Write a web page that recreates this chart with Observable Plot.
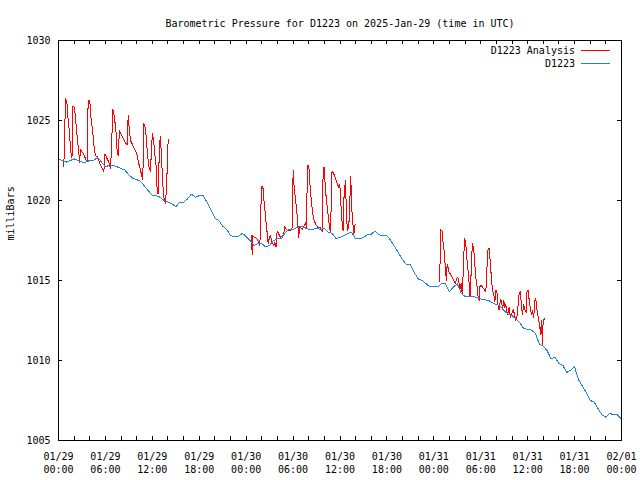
<!DOCTYPE html>
<html><head><meta charset="utf-8">
<script src="https://cdn.jsdelivr.net/npm/d3@7"></script>
<script src="https://cdn.jsdelivr.net/npm/@observablehq/plot@0.6"></script>
<style>body{margin:0;background:#fff} #chart{width:640px;height:480px}</style>
</head><body><div id="chart"></div>
<script>
const titleText = "Barometric Pressure for D1223 on 2025-Jan-29 (time in UTC)";
const yLabelText = "milliBars";
const seriesNames = ["D1223 Analysis", "D1223"];
const seriesColors = ["#ff0000", "#1e82e6"];
const startUTC = Date.UTC(2025, 0, 29);
const endUTC = Date.UTC(2025, 1, 1);
const yTickValues = [1005, 1010, 1015, 1020, 1025, 1030];
const xLabelEveryHours = 6;
const xTickEveryHours = 2;

// D1223 observations, one value every half hour from 01/29 00:00 to 02/01 00:00
const stationHourStep = 0.5;
const stationValues = [
  1022.6, 1022.5, 1022.4, 1022.5, 1022.6, 1022.5, 1022.4, 1022.4, 1022.5,
  1022.5, 1022.7, 1022.4, 1022.1, 1022.2, 1022.2, 1022.1, 1022.0, 1021.9,
  1021.6, 1021.4, 1021.3, 1021.2, 1020.9, 1020.6, 1020.3, 1020.3, 1020.2,
  1020.0, 1019.9, 1019.8, 1019.6, 1019.9, 1019.9, 1020.1, 1020.4, 1020.2,
  1020.3, 1020.3, 1019.9, 1019.4, 1018.9, 1018.75, 1018.4, 1018.2, 1017.8,
  1017.75, 1017.75, 1017.95, 1017.75, 1017.5, 1017.2, 1017.3, 1017.3, 1017.1,
  1017.2, 1017.5, 1017.6, 1017.6, 1018.0, 1018.2, 1018.2, 1018.3, 1018.4,
  1018.3, 1018.2, 1018.2, 1018.25, 1018.2, 1018.25, 1018.0, 1017.95, 1017.6,
  1017.7, 1017.8, 1017.95, 1018.0, 1017.6, 1017.6, 1017.7, 1017.85, 1017.9,
  1018.1, 1017.85, 1017.8, 1017.8, 1017.5, 1017.1, 1016.7, 1016.3, 1016.0,
  1016.0, 1015.5, 1015.1, 1015.0, 1014.8, 1014.6, 1014.6, 1014.6, 1014.8,
  1014.8, 1014.3, 1014.6, 1014.8, 1014.2, 1014.0, 1014.0, 1014.0, 1013.95,
  1013.85, 1013.8, 1013.75, 1013.6, 1013.5, 1013.4, 1013.1, 1012.9, 1012.8,
  1012.6, 1012.35, 1012.0, 1011.95, 1011.9, 1011.7, 1011.0, 1010.9, 1010.6,
  1010.1, 1010.2, 1009.8, 1009.7, 1009.25, 1009.4, 1009.6, 1008.8, 1008.4,
  1008.0, 1007.5, 1007.4, 1007.0, 1006.6, 1006.45, 1006.7, 1006.6, 1006.6,
  1006.35
];

// D1223 Analysis: [hours after 01/29 00:00, mb]
const analysisRun1 = [
  [0.68,1022.1],[0.90,1026.4],[1.11,1026.0],[1.24,1025.0],[1.41,1024.2],[1.53,1023.25],[1.66,1022.7],
  [1.75,1022.8],[1.83,1025.9],[1.96,1025.9],[2.09,1025.6],[2.26,1024.7],[2.43,1023.75],[2.60,1023.0],
  [2.69,1022.4],[2.81,1023.2],[3.03,1023.0],[3.24,1022.9],[3.45,1022.6],[3.67,1022.4],[3.79,1026.25],
  [3.88,1026.25],[4.01,1026.2],[4.14,1025.2],[4.31,1024.6],[4.43,1024.0],[4.56,1023.3],[4.73,1022.8],
  [4.94,1022.75],[5.16,1022.5],[5.37,1022.2],[5.58,1022.0],[5.80,1021.8],[5.92,1022.9],[6.10,1022.75],
  [6.22,1022.6],[6.44,1022.4],[6.65,1022.0],[6.78,1023.3],[6.95,1025.7],[7.08,1025.4],[7.20,1025.0],
  [7.37,1024.2],[7.50,1023.1],[7.63,1022.8],[7.80,1024.4],[7.93,1024.2],[8.14,1024.0],[8.36,1023.8],
  [8.57,1023.6],[8.78,1023.5],[8.91,1025.3],[8.99,1024.8],[9.21,1023.75],[9.42,1023.55],[9.63,1023.3],
  [9.85,1023.1],[10.06,1022.8],[10.27,1022.3],[10.49,1021.9],[10.61,1021.6],[10.78,1021.3],[10.91,1024.8],
  [11.04,1024.7],[11.21,1024.0],[11.38,1022.9],[11.55,1022.1],[11.77,1021.8],[11.89,1023.3],[12.02,1024.2],
  [12.15,1023.8],[12.32,1022.9],[12.49,1022.1],[12.62,1020.6],[12.74,1020.4],[12.92,1023.5],[13.04,1024.0],
  [13.17,1022.7],[13.34,1021.0],[13.47,1020.2],[13.68,1019.8],[13.81,1020.8],[13.94,1022.5],[14.02,1023.8]
];
const analysisRun2 = [
  [24.68,1017.8],[24.77,1016.6],[24.85,1017.8],[25.06,1017.7],[25.41,1017.6],[25.62,1017.35],[25.75,1017.2],
  [25.83,1018.5],[25.96,1020.9],[26.13,1020.9],[26.26,1020.1],[26.38,1019.5],[26.55,1018.6],[26.68,1018.0],
  [26.81,1017.3],[26.98,1017.7],[27.11,1017.8],[27.24,1017.5],[27.41,1017.3],[27.54,1017.2],[27.66,1017.4],
  [27.83,1017.1],[27.96,1018.1],[28.17,1017.9],[28.39,1017.7],[28.60,1017.8],[28.81,1017.9],[28.94,1018.4],
  [29.11,1018.2],[29.37,1018.1],[29.67,1018.1],[29.88,1018.3],[30.01,1021.9],[30.14,1020.8],[30.31,1020.1],
  [30.44,1019.5],[30.56,1018.85],[30.73,1017.7],[30.82,1018.3],[30.94,1018.3],[31.16,1018.2],[31.37,1018.4],
  [31.59,1018.6],[31.71,1018.3],[31.84,1022.2],[32.01,1022.2],[32.14,1021.1],[32.31,1020.1],[32.44,1019.5],
  [32.61,1018.85],[32.78,1018.65],[32.95,1018.45],[33.21,1018.3],[33.50,1018.3],[33.72,1018.05],[33.84,1021.8],
  [33.97,1022.1],[34.14,1020.7],[34.27,1020.0],[34.44,1019.3],[34.57,1018.65],[34.69,1018.25],[34.82,1018.0],
  [34.91,1021.7],[35.08,1021.8],[35.25,1021.6],[35.42,1021.4],[35.63,1021.1],[35.85,1020.8],[35.98,1021.0],
  [36.10,1019.9],[36.27,1018.65],[36.40,1018.1],[36.53,1020.5],[36.70,1021.25],[36.83,1019.05],[36.96,1018.1],
  [37.13,1018.4],[37.25,1019.9],[37.38,1021.5],[37.47,1019.7],[37.64,1018.65],[37.77,1017.8],[37.85,1018.4],
  [37.98,1018.5]
];
const analysisRun3 = [
  [48.76,1014.9],[48.85,1018.2],[49.06,1018.1],[49.19,1017.3],[49.36,1016.7],[49.49,1015.6],[49.62,1015.0],
  [49.70,1016.0],[49.83,1015.8],[49.96,1015.5],[50.13,1015.4],[50.34,1015.2],[50.55,1015.0],[50.77,1014.8],
  [50.90,1015.1],[51.06,1015.2],[51.19,1015.0],[51.32,1014.4],[51.49,1014.8],[51.62,1014.2],[51.75,1015.4],
  [51.92,1017.6],[52.05,1017.5],[52.17,1016.7],[52.34,1015.8],[52.47,1015.1],[52.60,1014.1],[52.68,1014.0],
  [52.81,1016.25],[52.94,1017.3],[53.11,1016.9],[53.24,1016.0],[53.37,1015.2],[53.54,1014.6],[53.66,1014.0],
  [53.79,1013.75],[53.88,1014.6],[54.05,1014.7],[54.22,1014.6],[54.48,1014.4],[54.65,1014.3],[54.82,1016.0],
  [54.94,1017.0],[55.07,1017.0],[55.24,1016.0],[55.37,1015.1],[55.50,1014.4],[55.67,1014.1],[55.80,1013.65],
  [55.93,1014.4],[56.10,1014.2],[56.22,1013.4],[56.35,1013.15],[56.52,1013.8],[56.65,1013.75],[56.78,1013.2],
  [56.95,1013.75],[57.08,1013.3],[57.20,1013.5],[57.33,1013.1],[57.46,1012.9],[57.63,1013.3],[57.80,1012.7],
  [57.97,1012.9],[58.14,1013.2],[58.31,1012.9],[58.48,1012.5],[58.65,1012.8],[58.78,1013.5],[58.91,1014.2],
  [59.08,1014.3],[59.21,1013.3],[59.33,1012.9],[59.50,1013.5],[59.68,1013.1],[59.80,1013.0],[59.93,1014.4],
  [60.06,1014.4],[60.23,1013.6],[60.36,1013.2],[60.49,1012.9],[60.61,1013.1],[60.78,1012.7],[60.91,1013.75],
  [61.04,1013.85],[61.21,1013.1],[61.42,1012.5],[61.55,1012.1],[61.64,1011.6],[61.76,1012.5],[61.89,1011.0],
  [61.98,1012.5],[62.15,1012.6]
];

const toDate = h => new Date(startUTC + h * 3600e3);
const station = stationValues.map((v, i) => ({t: toDate(i * stationHourStep), v}));
const analysis = [analysisRun1, analysisRun2, analysisRun3]
  .flatMap((run, k) => run.map(([h, v]) => ({t: toDate(h), v, run: k})));
const xLabelDates = d3.utcHour.every(xLabelEveryHours).range(new Date(startUTC), new Date(endUTC + 1));
const xTickDates = d3.utcHour.every(xTickEveryHours).range(new Date(startUTC), new Date(endUTC + 1));

const fontFamily = "'DejaVu Sans Mono', monospace";
const W = 640, H = 480, mL = 58, mR = 19, mT = 40, mB = 40;
const tickLen = 4;
const frameW = W - mL - mR, frameH = H - mT - mB;

const plot = Plot.plot({
  width: W, height: H,
  marginLeft: mL, marginRight: mR, marginTop: mT, marginBottom: mB,
  style: {fontFamily, fontSize: "10px", background: "white", color: "black", overflow: "visible"},
  x: {type: "utc", domain: [new Date(startUTC), new Date(endUTC)], axis: null},
  y: {domain: [1005, 1030], axis: null},
  marks: [
    Plot.line(analysis, {x: "t", y: "v", z: "run", stroke: seriesColors[0], strokeWidth: 1, shapeRendering: "crispEdges"}),
    Plot.line(station, {x: "t", y: "v", stroke: seriesColors[1], strokeWidth: 1, shapeRendering: "crispEdges"}),
    Plot.tickX(xTickDates, {x: d => d, insetTop: frameH - tickLen, stroke: "black", shapeRendering: "crispEdges"}),
    Plot.tickX(xTickDates, {x: d => d, insetBottom: frameH - tickLen, stroke: "black", shapeRendering: "crispEdges"}),
    Plot.tickY(yTickValues, {y: d => d, insetRight: frameW - tickLen, stroke: "black", shapeRendering: "crispEdges"}),
    Plot.tickY(yTickValues, {y: d => d, insetLeft: frameW - tickLen, stroke: "black", shapeRendering: "crispEdges"}),
    Plot.text(yTickValues, {y: d => d, frameAnchor: "left", dx: -8, textAnchor: "end", text: d => String(d), fill: "black"}),
    Plot.text(xLabelDates, {x: d => d, frameAnchor: "bottom", dy: 10, lineAnchor: "top", lineHeight: 1.3, text: d3.utcFormat("%m/%d\n%H:%M"), fill: "black"}),
    Plot.text([titleText], {frameAnchor: "top", dy: -21, text: d => d, fill: "black"}),
    Plot.text([yLabelText], {frameAnchor: "left", dx: -48, rotate: -90, text: d => d, fill: "black"}),
    Plot.frame({stroke: "black", shapeRendering: "crispEdges"})
  ]
});

// legend (top-right, inside the frame)
const svg = d3.select(plot);
const legendY = [50, 63];
seriesNames.forEach((name, i) => {
  svg.append("text")
    .attr("x", 575).attr("y", legendY[i])
    .attr("text-anchor", "end").attr("dominant-baseline", "central")
    .attr("font-family", fontFamily).attr("font-size", 10).attr("fill", "black")
    .text(name);
  svg.append("line")
    .attr("x1", 581).attr("x2", 610).attr("y1", legendY[i] + 0.5).attr("y2", legendY[i] + 0.5)
    .attr("stroke", seriesColors[i]).attr("stroke-width", 1).attr("shape-rendering", "crispEdges");
});

document.getElementById("chart").appendChild(plot);
</script>
</body></html>
